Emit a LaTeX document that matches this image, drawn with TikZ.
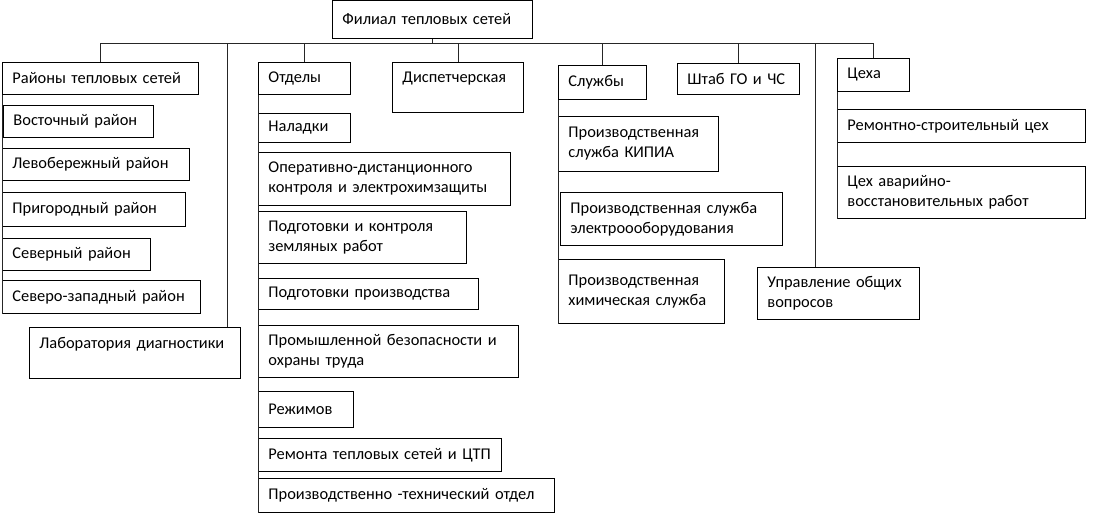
\documentclass[tikz,border=0pt]{standalone}
\usepackage{fontspec}
\setmainfont{Carlito}
\newcommand\bx[6]{%
  \pgfmathsetmacro\bxtw{#4-20}%
  \node[boxst, text width=\bxtw pt, minimum height=#5pt] (#1) at (#2,#3) {#6};}
\begin{document}
\begin{tikzpicture}[x=1pt,y=-1pt,
  boxst/.style={draw=black, line width=0.9pt, anchor=north west, align=left,
    inner xsep=10pt, inner ysep=0pt, font=\fontsize{16.4}{20}\selectfont},
  conn/.style={draw=black!85, line width=0.9pt}]
\useasboundingbox (0,0) rectangle (1095,523);
% top
\bx{top}{332}{0}{200}{38}{Филиал тепловых сетей}
% left column
\bx{rayony}{2}{62}{196}{32}{Районы тепловых сетей}
\bx{vost}{3}{105}{150}{32}{Восточный район}
\bx{levo}{2}{148}{187}{32}{Левобережный район}
\bx{prig}{2}{192}{183}{34}{Пригородный район}
\bx{sev}{2}{238}{148}{32}{Северный район}
\bx{szap}{2}{280}{198}{33}{Северо-западный район}
\bx{lab}{29}{327}{211}{51}{Лаборатория диагностики\\\mbox{}}
% departments
\bx{otd}{258}{62}{92}{32}{Отделы}
\bx{nal}{258}{113}{92}{29}{Наладки}
\bx{oper}{258}{152}{252}{53}{Оперативно-дистанционного\\контроля и электрохимзащиты}
\bx{podg}{258}{211}{208}{52}{Подготовки и контроля\\земляных работ}
\bx{podpr}{258}{278}{220}{31}{Подготовки производства}
\bx{prom}{258}{325}{260}{52}{Промышленной безопасности и\\охраны труда}
\bx{rezh}{258}{391}{95}{36}{Режимов}
\bx{rem}{258}{438}{243}{33}{Ремонта тепловых сетей и ЦТП}
\bx{pto}{258}{478}{296}{34}{Производственно -технический отдел}
% dispatch
\bx{disp}{392}{62}{131}{50}{Диспетчерская\\\mbox{}}
% services
\bx{sluzh}{558}{65}{88}{34}{Службы}
\bx{kipia}{558}{116}{160}{55}{Производственная\\служба КИПИА}
\bx{elec}{560}{192}{222}{53}{Производственная служба\\электроооборудования}
\bx{khim}{558}{259}{166}{64}{Производственная\\химическая служба}
% HQ
\bx{shtab}{677}{63}{122}{31}{Штаб ГО и ЧС}
\bx{upr}{757}{267}{162}{52}{Управление общих\\вопросов}
% workshops
\bx{tsekha}{837}{58}{72}{33}{Цеха}
\bx{rsc}{837}{109}{248}{33}{Ремонтно-строительный цех}
\bx{avar}{837}{166}{248}{52}{Цех аварийно-\\восстановительных работ}
% bus
\coordinate (busL) at (100,43);
\coordinate (busR) at (873,43);
\coordinate (labtap) at (227,43);
\coordinate (uprtap) at (815,43);
\draw[conn] (busL) -- (busR);
\draw[conn] (top.south) -- (top.south |- busL);
\draw[conn] (rayony.north) -- (rayony.north |- busL);
\draw[conn] (otd.north) -- (otd.north |- busL);
\draw[conn] (disp.north) -- (disp.north |- busL);
\draw[conn] (sluzh.north) -- (sluzh.north |- busL);
\draw[conn] (shtab.north) -- (shtab.north |- busL);
\draw[conn] (tsekha.north) -- (tsekha.north |- busL);
\draw[conn] (labtap) -- (labtap |- lab.north);
\draw[conn] (uprtap) -- (uprtap |- upr.north);
% column spines
\draw[conn] (rayony.south west) -- (szap.south west);
\draw[conn] (otd.south west) -- (pto.south west);
\draw[conn] (sluzh.south west) -- (khim.south west);
\draw[conn] (tsekha.south west) -- (avar.south west);
\end{tikzpicture}
\end{document}
